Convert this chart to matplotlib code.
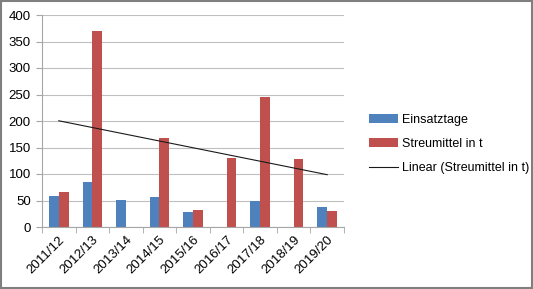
import numpy as np
import matplotlib
matplotlib.use("Agg")
import matplotlib.pyplot as plt
from matplotlib.patches import Rectangle

plt.rcParams['font.family'] = ['Liberation Sans', 'DejaVu Sans']

# winter seasons
seasons = ["2011/12", "2012/13", "2013/14", "2014/15", "2015/16",
           "2016/17", "2017/18", "2018/19", "2019/20"]
# None = no value in that season
einsatztage = [59, 84, 51, 56, 28, None, 49, None, 37]
streumittel = [66, 370, None, 168, 32, 131, 245, 128, 31]

blue = "#4F81BD"
red = "#C0504D"

fig = plt.figure(figsize=(5.33, 2.89), dpi=100)
ax = fig.add_axes([42 / 533, 1 - 227 / 289, (344 - 42) / 533, (227 - 15) / 289])

x = np.arange(len(seasons))
w = 0.29
e = np.array([np.nan if v is None else v for v in einsatztage], dtype=float)
s = np.array([np.nan if v is None else v for v in streumittel], dtype=float)
b1 = ax.bar(x - w / 2, np.nan_to_num(e), w, color=blue, label="Einsatztage", zorder=2)
b2 = ax.bar(x + w / 2, np.nan_to_num(s), w, color=red, label="Streumittel in t", zorder=2)

# linear trend like Excel (blank cells skipped)
ok = ~np.isnan(s)
k, d = np.polyfit(x[ok] + 1, s[ok], 1)
ln, = ax.plot(x, k * (x + 1) + d, color="#1a1a1a", lw=0.8,
              label="Linear (Streumittel in t)", zorder=3)

ax.set_xlim(-0.5, len(seasons) - 0.5)
ax.set_ylim(0, 400)
ax.set_yticks(range(0, 401, 50))
ax.yaxis.grid(True, color="#bfbfbf", lw=0.8, zorder=0)
ax.set_axisbelow(True)
for sp in ["top", "right"]:
    ax.spines[sp].set_visible(False)
ax.spines["left"].set_color("#a6a6a6")
ax.spines["bottom"].set_color("#a6a6a6")

ax.set_xticks(x)
ax.set_xticklabels(seasons, rotation=45, ha="right", rotation_mode="anchor")
ax.set_xticks(np.arange(-0.5, len(seasons)), minor=True)
ax.tick_params(axis="x", which="major", length=0, labelsize=9.5, pad=5)
ax.tick_params(axis="x", which="minor", length=4, color="#a6a6a6")
ax.tick_params(axis="y", length=4, color="#a6a6a6", labelsize=9.5, pad=4)

fig.legend([b1, b2, ln], [b1.get_label(), b2.get_label(), ln.get_label()],
           loc="center left", bbox_to_anchor=(363 / 533, 1 - 144 / 289),
           frameon=False, fontsize=9, handlelength=2.3, handletextpad=0.35,
           labelspacing=1.0, borderpad=0)

fig.patches.append(Rectangle((0.002, 0.003), 0.996, 0.994, transform=fig.transFigure,
                             fill=False, edgecolor="#7f7f7f", lw=1.5))

fig.savefig("out.png", dpi=100)
